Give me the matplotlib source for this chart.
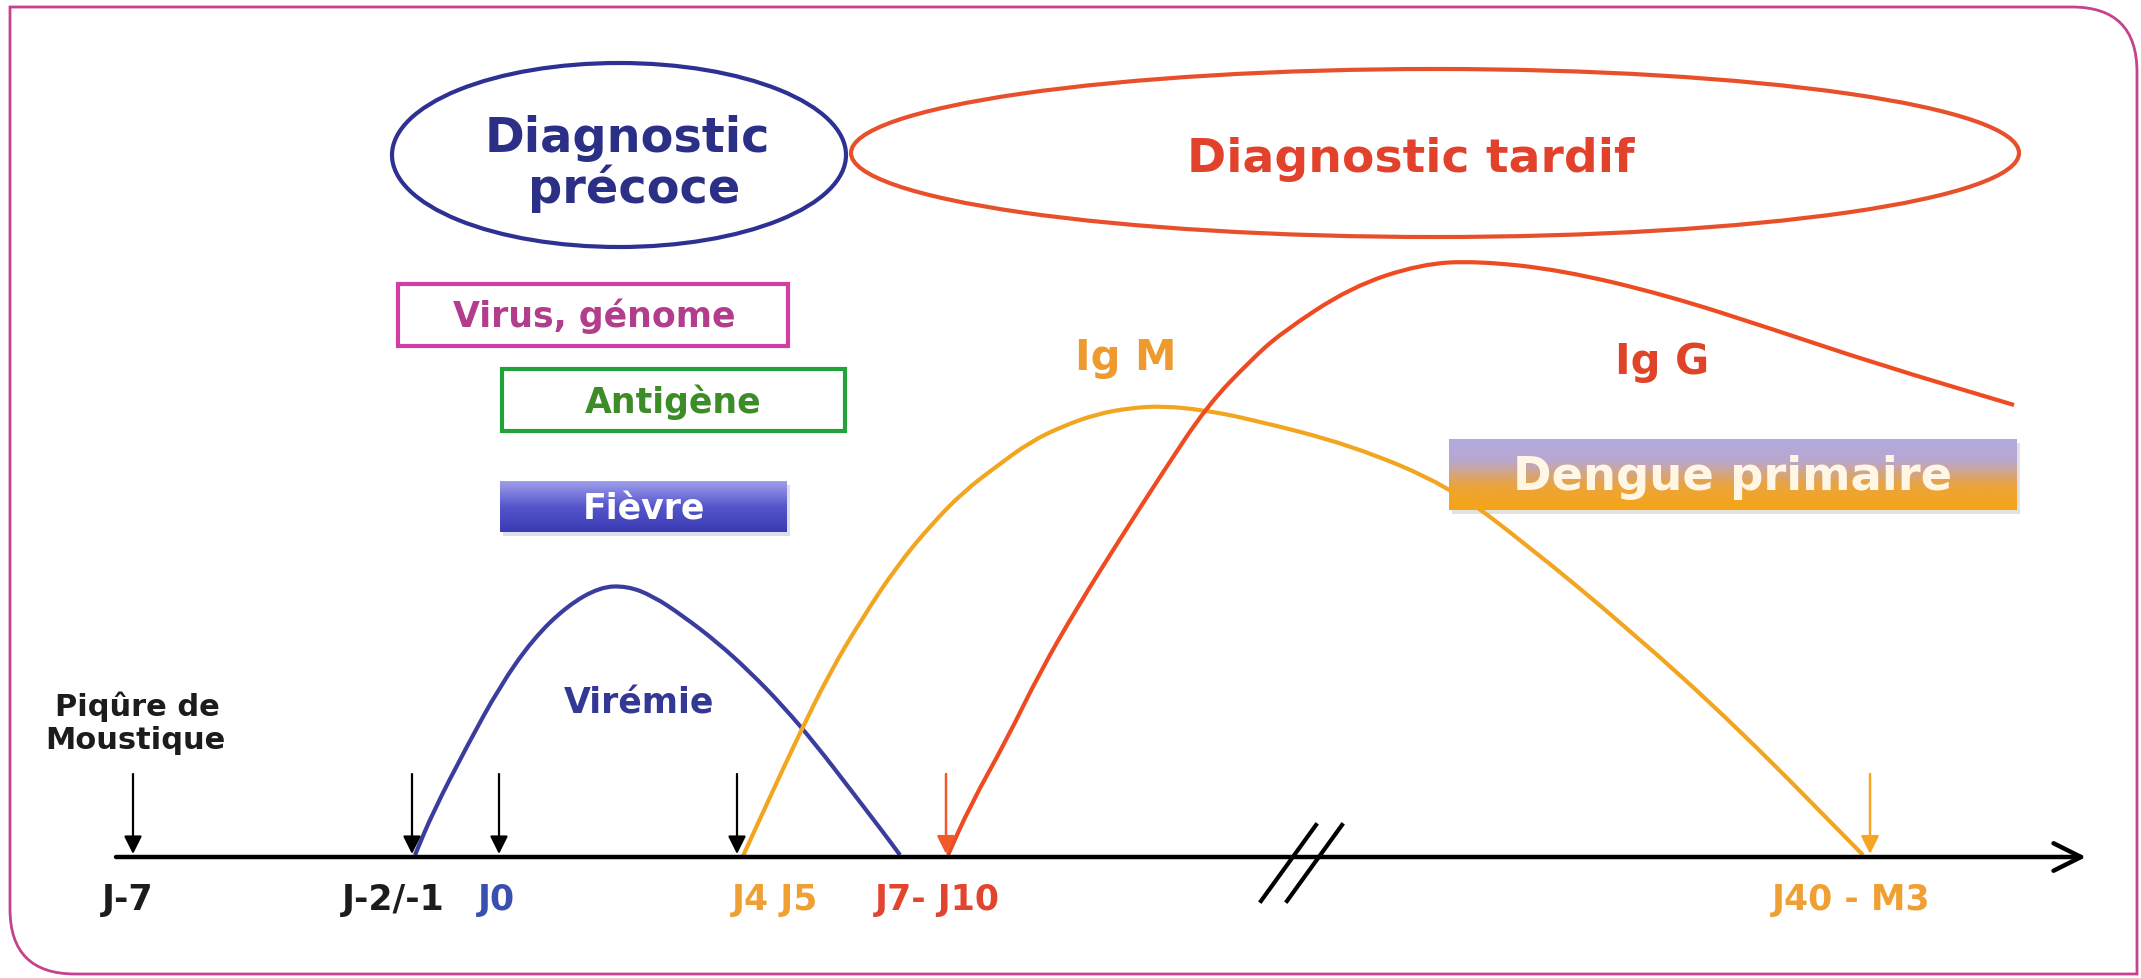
import numpy as np
import matplotlib
matplotlib.use("Agg")
import matplotlib.pyplot as plt
from matplotlib.patches import Ellipse, Rectangle, PathPatch
from matplotlib.path import Path
from matplotlib.colors import LinearSegmentedColormap

plt.rcParams['font.family'] = ['DejaVu Sans']
plt.rcParams['font.weight'] = 'bold'

# timeline labels and event arrows (x in timeline units, left to right)
tick_labels = ["J-7", "J-2/-1", "J0", "J4 J5", "J7- J10", "J40 - M3"]
tick_x = [128, 393, 496, 775, 937, 1851]
tick_colors = ["#1c1c1c", "#1c1c1c", "#3a50b0", "#f0a032", "#e2452e", "#f0a032"]

arrow_x = [133, 412, 499, 737, 946, 1870]
arrow_colors = ["black", "black", "black", "black", "#f25a2c", "#f5a623"]

# curves (timeline x, level y; baseline at 858, smaller y = higher)
viremia_x = [415, 433, 467, 500, 533, 567, 600, 627, 653, 683, 717, 750, 783, 817, 850, 883, 900]
viremia_y = [856, 813, 747, 687, 640, 607, 588, 587, 597, 617, 643, 673, 707, 747, 790, 833, 856]

igm_x = [743, 770, 797, 830, 863, 897, 930, 963, 997, 1030, 1063, 1097, 1130, 1163, 1203,
         1250, 1351, 1449, 1526, 1631, 1737, 1863]
igm_y = [857, 798, 740, 673, 618, 567, 527, 493, 467, 443, 427, 415, 409, 407, 411,
         420, 446, 487, 545, 632, 728, 856]

igg_x = [948, 970, 1007, 1040, 1078, 1120, 1163, 1207, 1250, 1281, 1351, 1421, 1477,
         1561, 1666, 1772, 1877, 2014]
igg_y = [856, 807, 740, 673, 607, 540, 473, 407, 362, 334, 288, 265, 262,
         271, 296, 330, 365, 406]

BASE = 858


def smooth_path(xs, ys):
    # quadratic bezier through the read points (points used as control points)
    pts = np.column_stack([xs, ys]).astype(float)
    verts = [pts[0], (pts[0] + pts[1]) / 2]
    codes = [Path.MOVETO, Path.LINETO]
    for i in range(1, len(pts) - 1):
        verts += [pts[i], (pts[i] + pts[i + 1]) / 2]
        codes += [Path.CURVE3, Path.CURVE3]
    verts.append(pts[-1])
    codes.append(Path.LINETO)
    return Path(verts, codes)


fig = plt.figure(figsize=(21.41, 9.79), dpi=100)
ax = fig.add_axes([0, 0, 1, 1])
ax.set_xlim(0, 2141)
ax.set_ylim(979, 0)
ax.axis('off')

# frame with two rounded corners
r = 65
L, R, T, B = 10, 2137, 8, 975
frame = Path([(L, T), (R - r, T), (R, T), (R, T + r), (R, B), (L + r, B), (L, B), (L, B - r), (L, T)],
             [Path.MOVETO, Path.LINETO, Path.CURVE3, Path.CURVE3, Path.LINETO, Path.LINETO,
              Path.CURVE3, Path.CURVE3, Path.CLOSEPOLY])
ax.add_patch(PathPatch(frame, fill=False, ec="#c4428e", lw=2))

# ellipses
ax.add_patch(Ellipse((619, 156), 454, 184, fill=False, ec="#2e3192", lw=3))
ax.text(627, 152, "Diagnostic", ha='center', va='baseline', fontsize=34.5, color="#2b2f86")
ax.text(634, 203, "précoce", ha='center', va='baseline', fontsize=34.5, color="#2b2f86")

ax.add_patch(Ellipse((1435, 154), 1168, 168, fill=False, ec="#e8502c", lw=3))
ax.text(1411, 172, "Diagnostic tardif", ha='center', va='baseline', fontsize=34, color="#e2422c")

# boxes
ax.add_patch(Rectangle((398, 285), 390, 62, fill=False, ec="#d23ea4", lw=3))
ax.text(594, 316, "Virus, génome", ha='center', va='center', fontsize=25, color="#b23d8c")

ax.add_patch(Rectangle((502, 370), 343, 62, fill=False, ec="#22a23a", lw=3))
ax.text(673, 402, "Antigène", ha='center', va='center', fontsize=25, color="#3c8c28")

fever_cmap = LinearSegmentedColormap.from_list("fev", ["#9e9eec", "#5656cc", "#3a3ab2"])
ax.add_patch(Rectangle((503, 486), 287, 51, fc="#c8c8d8", ec='none', alpha=0.6))
ax.imshow(np.linspace(0, 1, 100).reshape(-1, 1), cmap=fever_cmap, aspect='auto',
          extent=(500, 787, 533, 482), interpolation='bicubic', zorder=2)
ax.text(644, 510, "Fièvre", ha='center', va='center', fontsize=25, color="white", zorder=3)

dengue_cmap = LinearSegmentedColormap.from_list(
    "den", [(0, "#b2aade"), (0.3, "#b8a7d0"), (0.65, "#eaa43e"), (1, "#f6a414")])
ax.add_patch(Rectangle((1452, 444), 568, 71, fc="#d0d0d0", ec='none', alpha=0.6))
ax.imshow(np.linspace(0, 1, 100).reshape(-1, 1), cmap=dengue_cmap, aspect='auto',
          extent=(1449, 2017, 511, 441), interpolation='bicubic', zorder=2)
ax.text(1733, 478, "Dengue primaire", ha='center', va='center', fontsize=33.5, color="#fff6e6", zorder=3)

# curves
ax.add_patch(PathPatch(smooth_path(viremia_x, viremia_y), fill=False, ec="#3b3d9e", lw=3, zorder=4))
ax.add_patch(PathPatch(smooth_path(igm_x, igm_y), fill=False, ec="#f2a51f", lw=3, zorder=4))
ax.add_patch(PathPatch(smooth_path(igg_x, igg_y), fill=False, ec="#ee4b22", lw=3, zorder=4))

ax.text(639, 714, "Virémie", ha='center', va='baseline', fontsize=25, color="#343895")
ax.text(1126, 370, "Ig M", ha='center', va='baseline', fontsize=30, color="#ee9a2e")
ax.text(1662, 374, "Ig G", ha='center', va='baseline', fontsize=30, color="#e04428")

# time axis
ax.annotate("", xy=(2086, BASE), xytext=(116, BASE),
            arrowprops=dict(arrowstyle="->,head_length=0.9,head_width=0.45", color="black",
                            lw=3.2, mutation_scale=22, shrinkA=0, shrinkB=0), zorder=5)
for x0 in [1316, 1342]:
    ax.plot([x0, x0 - 55], [826, 902], color="black", lw=3, zorder=6)

for x, c in zip(arrow_x, arrow_colors):
    lw = 1.6 if c == "black" else 1.8
    ax.annotate("", xy=(x, BASE - 3), xytext=(x, 775),
                arrowprops=dict(arrowstyle="-|>,head_length=0.6,head_width=0.3", color=c,
                                lw=lw, mutation_scale=18, shrinkA=0, shrinkB=0), zorder=6)

for lab, x, c in zip(tick_labels, tick_x, tick_colors):
    ax.text(x, 910, lab, ha='center', va='baseline', fontsize=25, color=c)

ax.text(137, 716, "Piqûre de", ha='center', va='baseline', fontsize=22, color="#1c1c1c")
ax.text(135, 749, "Moustique", ha='center', va='baseline', fontsize=22, color="#1c1c1c")

fig.savefig("out.png", dpi=100, facecolor="white")
